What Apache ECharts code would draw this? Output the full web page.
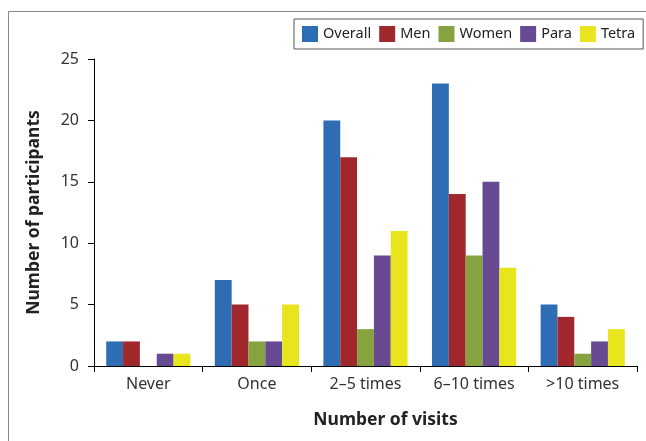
<!DOCTYPE html>
<html><head><meta charset="utf-8">
<script src="https://cdn.jsdelivr.net/npm/echarts@6/dist/echarts.min.js"></script>
<style>html,body{margin:0;padding:0;background:#fff}#c{width:646px;height:441px}</style>
</head><body><div id="c"></div>
<script>
const categories = ['Never', 'Once', '2\u20135 times', '6\u201310 times', '>10 times'];
const overall = [2, 7, 20, 23, 5];
const men = [2, 5, 17, 14, 4];
const women = [0, 2, 3, 9, 1];
const para = [1, 2, 9, 15, 2];
const tetra = [1, 5, 11, 8, 3];
const seriesNames = ['Overall', 'Men', 'Women', 'Para', 'Tetra'];
const colors = ['#2E6DB4', '#A0282C', '#86A33F', '#684A92', '#E8E51C'];
const yTicks = [0, 5, 10, 15, 20, 25];

const font = 'Noto Sans';
const chart = echarts.init(document.getElementById('c'));
const data = [overall, men, women, para, tetra];
chart.setOption({
  animation: false,
  textStyle: { fontFamily: font },
  grid: { left: 94, top: 59, right: 9, bottom: 75, containLabel: false },
  legend: {
    left: 294, top: 19,
    borderColor: '#555', borderWidth: 1, padding: [7, 8, 7, 8],
    itemWidth: 16, itemHeight: 16, itemGap: 8, icon: 'rect',
    textStyle: { fontFamily: font, fontSize: 14.5, color: '#222' },
    data: seriesNames
  },
  graphic: [
    { type: 'polyline', shape: { points: [[8.5, 441], [8.5, 11.5], [646, 11.5]] }, style: { stroke: '#888', lineWidth: 1, fill: null } }
  ],
  xAxis: {
    type: 'category', data: categories,
    name: 'Number of visits', nameLocation: 'middle', nameGap: 45,
    nameTextStyle: { fontFamily: font, fontSize: 17.5, fontWeight: 'bold', color: '#222', padding: [0, 0, 0, 40] },
    axisLine: { lineStyle: { color: '#000', width: 1 } },
    axisTick: { show: true, length: 6, alignWithLabel: false, lineStyle: { color: '#000' } },
    axisLabel: { fontFamily: font, fontSize: 16, color: '#333', margin: 10 }
  },
  yAxis: {
    type: 'value', min: 0, max: 25, interval: 5,
    name: 'Number of participants', nameLocation: 'middle', nameGap: 51,
    nameTextStyle: { fontFamily: font, fontSize: 17.5, fontWeight: 'bold', color: '#222' },
    splitLine: { show: false },
    axisLine: { show: true, lineStyle: { color: '#000', width: 1 } },
    axisTick: { show: true, length: 6, lineStyle: { color: '#000' } },
    axisLabel: { fontFamily: font, fontSize: 16, color: '#333', margin: 15,
      formatter: v => yTicks.includes(v) ? String(v) : '' }
  },
  series: seriesNames.map((n, i) => ({
    name: n, type: 'bar', data: data[i],
    itemStyle: { color: colors[i] },
    barGap: '0%', barCategoryGap: '22.5%'
  }))
});
</script></body></html>
